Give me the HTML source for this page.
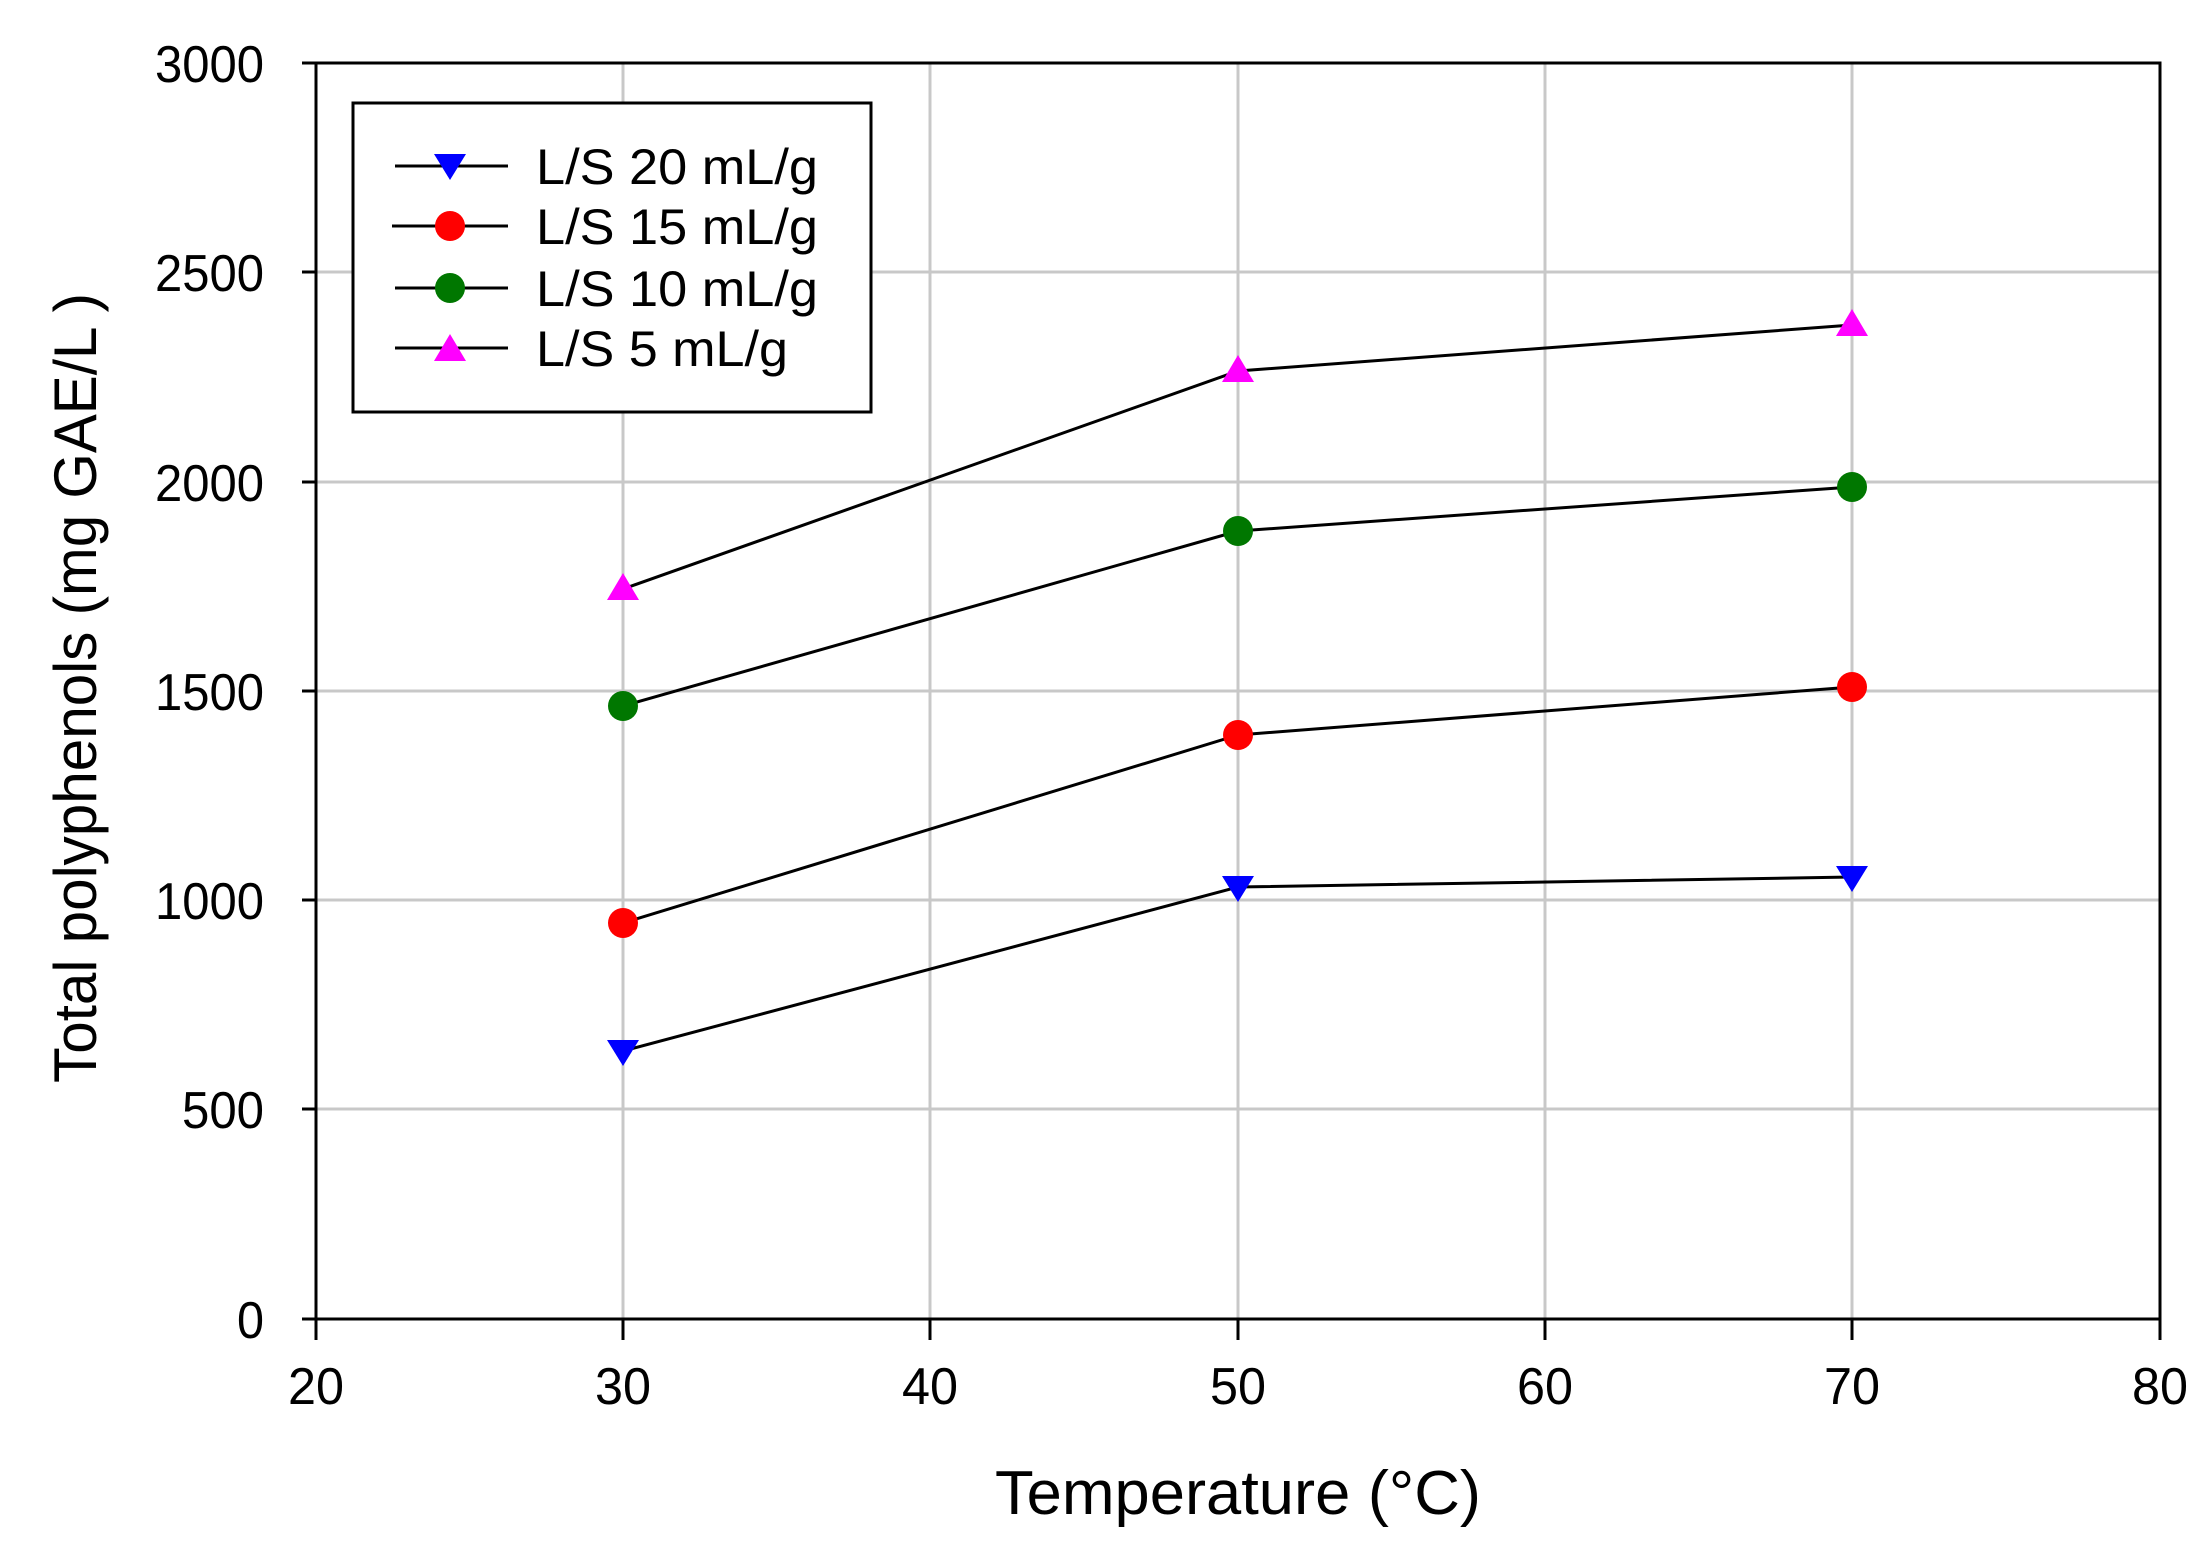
<!DOCTYPE html>
<html><head><meta charset="utf-8"><style>html,body{margin:0;padding:0;background:#fff}svg{display:block}</style></head>
<body>
<svg width="2212" height="1544" viewBox="0 0 2212 1544" xmlns="http://www.w3.org/2000/svg" font-family="Liberation Sans, Arial, sans-serif">
<g stroke="#c8c8c8" stroke-width="3">
<line x1="623" y1="63" x2="623" y2="1319"/><line x1="930" y1="63" x2="930" y2="1319"/><line x1="1238" y1="63" x2="1238" y2="1319"/><line x1="1545" y1="63" x2="1545" y2="1319"/><line x1="1852" y1="63" x2="1852" y2="1319"/>
<line x1="316" y1="272" x2="2160" y2="272"/><line x1="316" y1="482" x2="2160" y2="482"/><line x1="316" y1="691" x2="2160" y2="691"/><line x1="316" y1="900" x2="2160" y2="900"/><line x1="316" y1="1109" x2="2160" y2="1109"/>
</g>
<rect x="316" y="63" width="1844" height="1256" fill="none" stroke="#000" stroke-width="3"/>
<g stroke="#000" stroke-width="3">
<line x1="302" y1="63" x2="316" y2="63"/><line x1="302" y1="272" x2="316" y2="272"/><line x1="302" y1="482" x2="316" y2="482"/><line x1="302" y1="691" x2="316" y2="691"/><line x1="302" y1="900" x2="316" y2="900"/><line x1="302" y1="1109" x2="316" y2="1109"/><line x1="302" y1="1319" x2="316" y2="1319"/>
<line x1="316" y1="1319" x2="316" y2="1340"/><line x1="623" y1="1319" x2="623" y2="1340"/><line x1="930" y1="1319" x2="930" y2="1340"/><line x1="1238" y1="1319" x2="1238" y2="1340"/><line x1="1545" y1="1319" x2="1545" y2="1340"/><line x1="1852" y1="1319" x2="1852" y2="1340"/><line x1="2160" y1="1319" x2="2160" y2="1340"/>
</g>
<g font-size="52" text-anchor="end" fill="#000">
<text x="264" y="82" textLength="109" lengthAdjust="spacingAndGlyphs">3000</text><text x="264" y="291" textLength="109" lengthAdjust="spacingAndGlyphs">2500</text><text x="264" y="501" textLength="109" lengthAdjust="spacingAndGlyphs">2000</text><text x="264" y="710" textLength="109" lengthAdjust="spacingAndGlyphs">1500</text><text x="264" y="919" textLength="109" lengthAdjust="spacingAndGlyphs">1000</text><text x="264" y="1128" textLength="82" lengthAdjust="spacingAndGlyphs">500</text><text x="264" y="1338" textLength="27" lengthAdjust="spacingAndGlyphs">0</text>
</g>
<g font-size="52" text-anchor="middle" fill="#000">
<text x="316" y="1404" textLength="56" lengthAdjust="spacingAndGlyphs">20</text><text x="623" y="1404" textLength="56" lengthAdjust="spacingAndGlyphs">30</text><text x="930" y="1404" textLength="56" lengthAdjust="spacingAndGlyphs">40</text><text x="1238" y="1404" textLength="56" lengthAdjust="spacingAndGlyphs">50</text><text x="1545" y="1404" textLength="56" lengthAdjust="spacingAndGlyphs">60</text><text x="1852" y="1404" textLength="56" lengthAdjust="spacingAndGlyphs">70</text><text x="2160" y="1404" textLength="56" lengthAdjust="spacingAndGlyphs">80</text>
</g>
<text x="1238" y="1514" font-size="62" text-anchor="middle" textLength="486" lengthAdjust="spacingAndGlyphs">Temperature (°C)</text>
<text transform="translate(96,688) rotate(-90)" font-size="60" text-anchor="middle" textLength="790" lengthAdjust="spacingAndGlyphs">Total polyphenols (mg GAE/L )</text>
<g fill="none" stroke="#000" stroke-width="3">
<polyline points="623,1051 1238,887 1852,877"/>
<polyline points="623,923 1238,735 1852,687"/>
<polyline points="623,706 1238,531 1852,487"/>
<polyline points="623,589 1238,371 1852,325"/>
</g>
<g fill="#0000ff"><path d="M607,1040 h32 l-16,26z"/><path d="M1222,876 h32 l-16,26z"/><path d="M1836,866 h32 l-16,26z"/></g>
<g fill="#ff0000"><circle cx="623" cy="923" r="15"/><circle cx="1238" cy="735" r="15"/><circle cx="1852" cy="687" r="15"/></g>
<g fill="#007700"><circle cx="623" cy="706" r="15"/><circle cx="1238" cy="531" r="15"/><circle cx="1852" cy="487" r="15"/></g>
<g fill="#ff00ff"><path d="M607,600 h32 l-16,-27z"/><path d="M1222,382 h32 l-16,-27z"/><path d="M1836,336 h32 l-16,-27z"/></g>
<rect x="353" y="103" width="518" height="309" fill="#fff" stroke="#000" stroke-width="3"/>
<g stroke="#000" stroke-width="3">
<line x1="395" y1="166" x2="508" y2="166"/><line x1="392" y1="226" x2="508" y2="226"/><line x1="395" y1="288" x2="508" y2="288"/><line x1="395" y1="348" x2="508" y2="348"/>
</g>
<path d="M434,154 h32 l-16,26z" fill="#0000ff"/>
<circle cx="450" cy="226" r="15" fill="#ff0000"/>
<circle cx="450" cy="288" r="15" fill="#007700"/>
<path d="M434,361 h32 l-16,-27z" fill="#ff00ff"/>
<g font-size="50" fill="#000">
<text x="536" y="184" textLength="282" lengthAdjust="spacingAndGlyphs">L/S 20 mL/g</text>
<text x="536" y="244" textLength="282" lengthAdjust="spacingAndGlyphs">L/S 15 mL/g</text>
<text x="536" y="306" textLength="282" lengthAdjust="spacingAndGlyphs">L/S 10 mL/g</text>
<text x="536" y="366" textLength="252" lengthAdjust="spacingAndGlyphs">L/S 5 mL/g</text>
</g>
</svg>
</body></html>
